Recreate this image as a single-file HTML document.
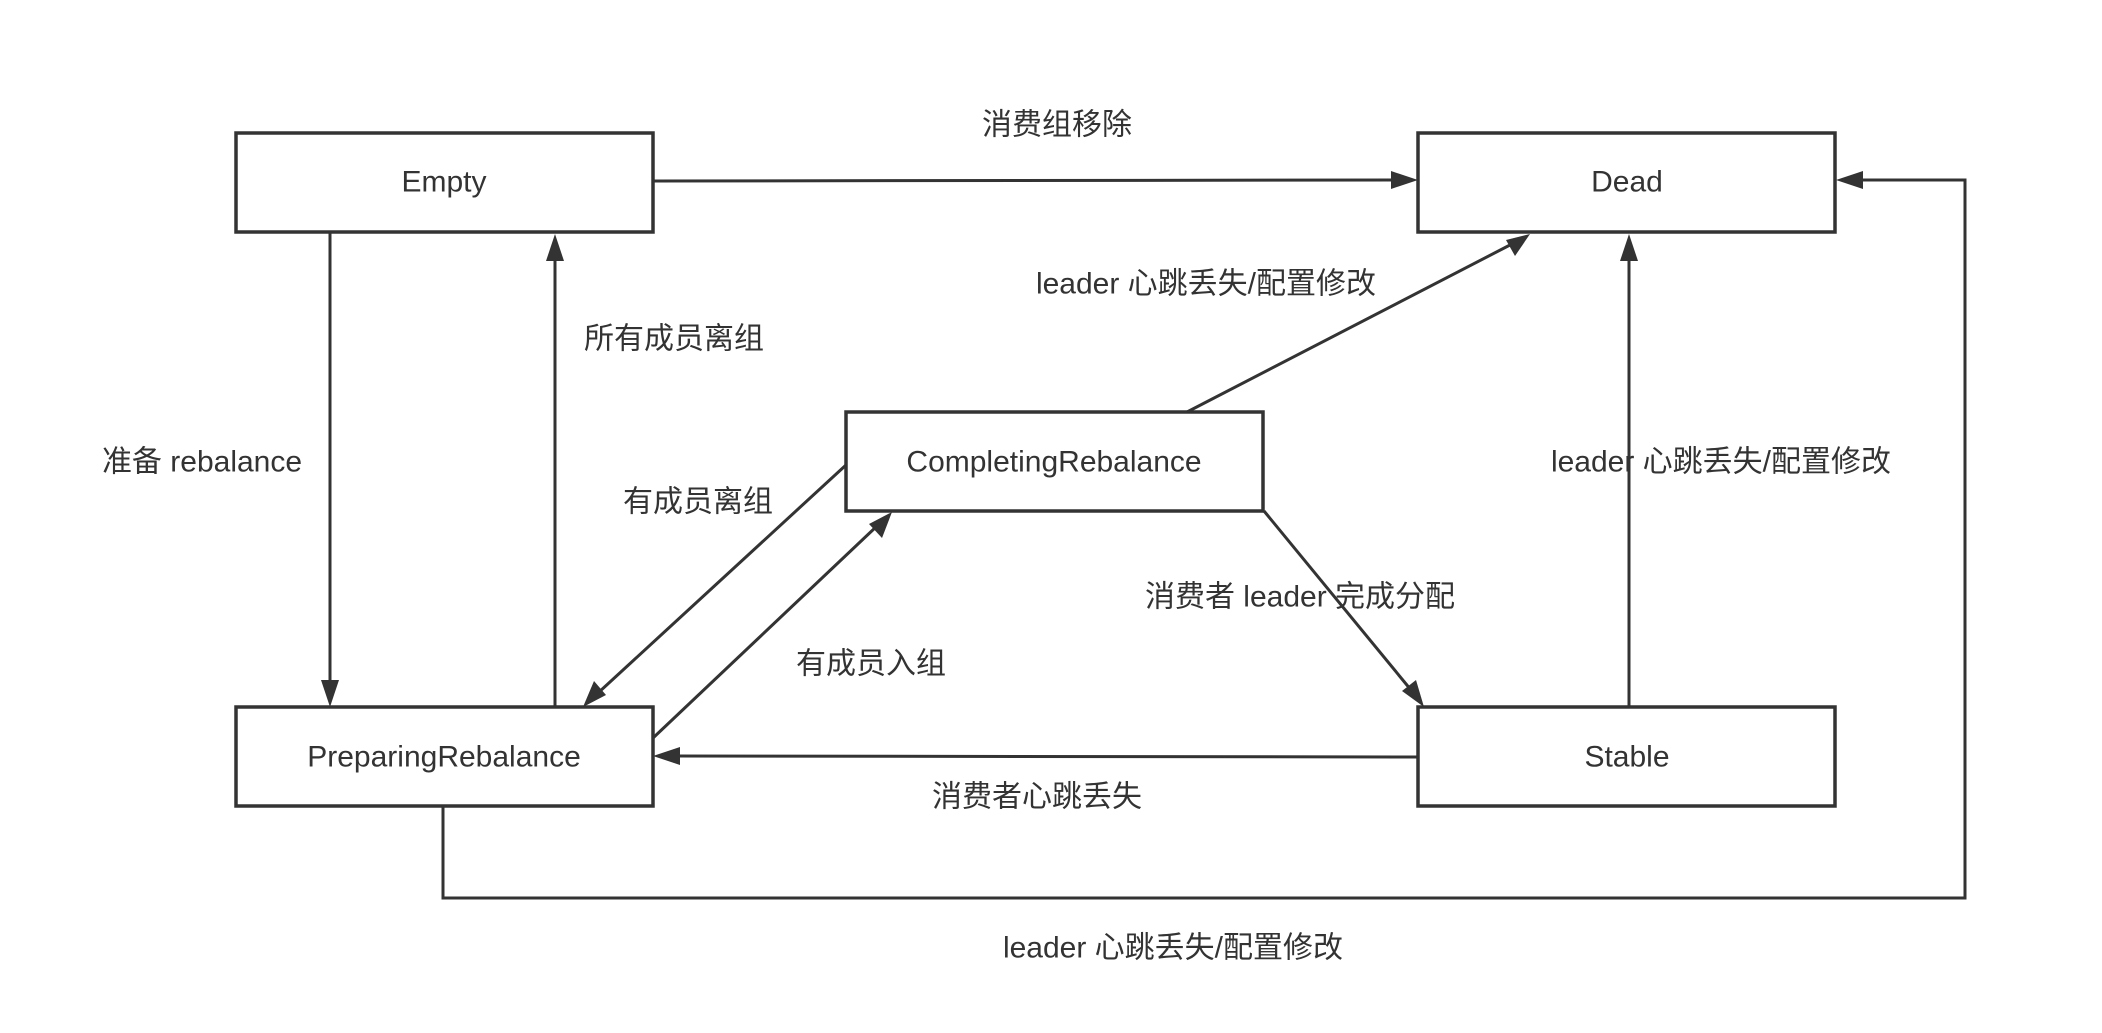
<!DOCTYPE html>
<html><head><meta charset="utf-8"><style>
html,body{margin:0;padding:0;background:#fff;}
svg text{font-family:"Liberation Sans","Noto Sans CJK SC",sans-serif;font-size:30px;fill:#333;text-anchor:middle;dominant-baseline:central;}
</style></head><body>
<svg width="2102" height="1028" viewBox="0 0 2102 1028" xmlns="http://www.w3.org/2000/svg">
<defs>
<marker id="a" markerWidth="10" markerHeight="8" refX="9.5" refY="4" orient="auto" markerUnits="userSpaceOnUse" viewBox="0 0 10 8" style="overflow:visible">
</marker>
</defs>
<g fill="#fff" stroke="#333" stroke-width="3.5">
<rect x="236" y="133" width="417" height="99"/>
<rect x="1418" y="133" width="417" height="99"/>
<rect x="846" y="412" width="417" height="99"/>
<rect x="236" y="707" width="417" height="99"/>
<rect x="1418" y="707" width="417" height="99"/>
</g>
<g stroke="#333" stroke-width="3" fill="none">
<line x1="653" y1="181" x2="1395" y2="180"/>
<line x1="330" y1="232" x2="330" y2="685"/>
<line x1="555" y1="707" x2="555" y2="254"/>
<line x1="1187" y1="412" x2="1510" y2="245"/>
<line x1="1629" y1="707" x2="1629" y2="255"/>
<line x1="846" y1="465" x2="598" y2="693"/>
<line x1="653" y1="738" x2="877" y2="526"/>
<line x1="1264" y1="511" x2="1411" y2="690"/>
<line x1="1418" y1="757" x2="675" y2="756"/>
<polyline points="443,806 443,898 1965,898 1965,180 1858,180"/>
</g>
<g fill="#333">
<polygon points="1418,180 1391,171 1391,189"/>
<polygon points="330,707 321,680 339,680"/>
<polygon points="555,234 546,261 564,261"/>
<polygon points="1530,234 1515,256 1506,240"/>
<polygon points="1629,234 1620,261 1638,261"/>
<polygon points="583,707 594,681 606,695"/>
<polygon points="892,512 882,538 869,524"/>
<polygon points="1424,707 1402,691 1416,680"/>
<polygon points="653,756 680,747 680,765"/>
<polygon points="1836,180 1863,171 1863,189"/>
</g>
<text x="444" y="182">Empty</text>
<text x="1627" y="182">Dead</text>
<text x="1054" y="462">CompletingRebalance</text>
<text x="444" y="757">PreparingRebalance</text>
<text x="1627" y="757">Stable</text>
<text x="1057" y="125">消费组移除</text>
<text x="1206" y="284">leader 心跳丢失/配置修改</text>
<text x="674" y="339">所有成员离组</text>
<text x="202" y="462">准备 rebalance</text>
<text x="698" y="502">有成员离组</text>
<text x="1721" y="462">leader 心跳丢失/配置修改</text>
<text x="1300" y="597">消费者 leader 完成分配</text>
<text x="871" y="664">有成员入组</text>
<text x="1037" y="797">消费者心跳丢失</text>
<text x="1173" y="948">leader 心跳丢失/配置修改</text>
</svg>
</body></html>
